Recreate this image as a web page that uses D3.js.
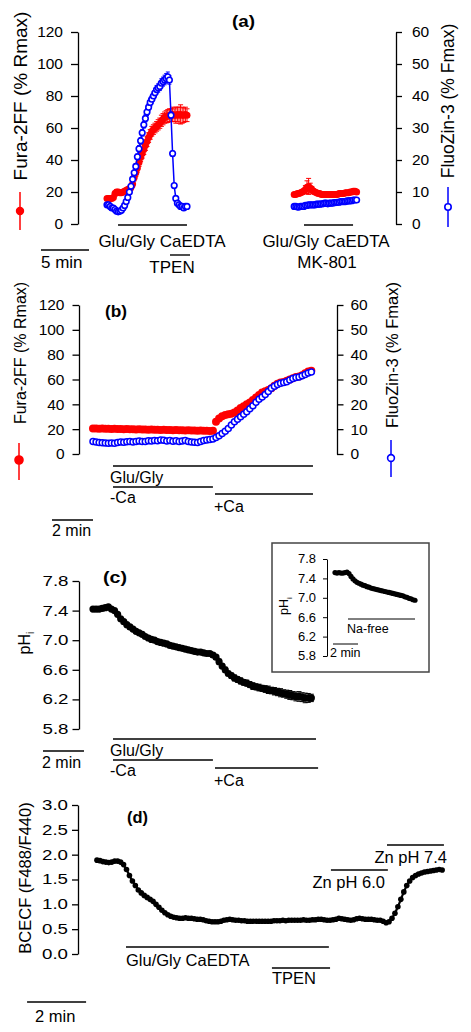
<!DOCTYPE html>
<html><head><meta charset="utf-8">
<script src="https://cdn.jsdelivr.net/npm/d3@7"></script>
<style>body{margin:0;background:#fff}svg{display:block}</style>
</head><body>
<svg id="chart" width="471" height="1032"></svg>
<script>
// ---------------- DATA ----------------
// Panel (a): sample interval (min) and start time of each recording (min)
const aDt = 1/6;
const aT0 = [0, 19.5];
const aFura1 = [16,16,16,16,16.5,19,20,20,19.5,19.5, 20,20.5,21,21.5,22,23,25,29,32,35, 38.5,41.5,44,46.5,49,51.5,54,56,58,59, 60,61,62,63,64.5,65.5,66.5,67,67.5,68, 68,68.5,68,68,68.5,68,68.5,68,68,68.5, 68];
const aFuraErr1 = [1,1,1,1,1.2,1.5,1.5,1.5,1.2,1.2, 1.2,1.2,1.5,1.5,1.5,1.8,2,2,2.2,2.5, 2.5,2.5,2.8,3,3,3,3,3,3,3, 3,3,3.2,3.2,3.5,3.5,3.5,3.8,4,4, 4,4.5,4,5,4.5,5,6,5,4.5,4.5, 4];
const aZin1 = [6,6,5.5,5,5,4.5,4,3.8,4,4.3, 5,5.8,7,8.3,10,11.8,14,16,18,21, 23.5,26,28.5,31,33,35,36.5,38,39,40, 41,42,42.5,43,44,44.5,45,45.5,46,45, 34,22,12,8,6.5,6,5.5,5.5,5,5.5, 5.5];
const aZinErr1 = [0.4,0.4,0.4,0.4,0.4,0.4,0.4,0.4,0.4,0.4, 0.5,0.5,0.6,0.6,0.7,0.7,0.8,0.8,0.9,0.9, 1,1,1,1,1.1,1.1,1.1,1.2,1.2,1.2, 1.2,1.3,1.3,1.3,1.4,1.4,1.5,1.5,1.5,1.3, 1,0.8,0.6,0.5,0.5,0.4,0.4,0.4,0.4,0.4, 0.4];
const aFura2 = [18.5,18.5,19,19,19.5,20,20.5,21.5,23,23.5, 22.5,21.5,20.5,20,19.5,19,19,18.5,18.5,18.5, 18.5,18.5,18.5,18.5,18.5,18.5,18.5,18.5,19,19, 19,19,19.5,19.5,19.5,20,20,20.5,20.5,20];
const aFuraErr2 = [1,1,1,1,1,1.2,1.5,2.5,4,5, 3,2,1.5,1.2,1,1,1,1,1,1, 1,1,1,1,1,1,1,1,1,1, 1,1,1,1,1,1,1.2,1.2,1.2,1.2];
const aZin2 = [5.5,5.5,5.3,5.3,5.5,5.5,5.5,5.8,5.8,6, 6,6,6,6,6.2,6.2,6.2,6.3,6.3,6.5, 6.5,6.3,6.5,6.5,6.5,6.7,6.7,6.8,6.8,7, 7,7,7,7.2,7.2,7.3,7.3,7.5,7.5,7.5];
const aLeftTicks = [0,20,40,60,80,100,120];
const aRightTicks = [0,10,20,30,40,50,60];
// protocol bars of panel (a): [label, start min, end min]
const aProtocol = [["Glu/Gly CaEDTA",1.15,8.33],["TPEN",6.56,8.65],["Glu/Gly CaEDTA",20.52,25.63]];
const aScaleMin = 5;

// Panel (b)
const bDt = 0.15;
const bFura = [20.5,20.6,20.4,20.5,20.3,20.4,20.2,20.3,20.1,20.2, 20.0,20.1,19.9,20.0,19.8,19.9,19.7,19.8,19.6,19.7, 19.5,19.6,19.4,19.5,19.3,19.4,19.2,19.3,19.1,19.2, 19.0,19.1,18.9,19.0,18.8,18.9,18.7,18.8,18.6,18.7, 26,28.5,30.5,31.5,32,32.5,33.5,35,37,38.5, 40,41.5,43.5,45.5,47.5,49.5,50.5,51.5,53,55, 56.5,57.5,58,59,60,61,62,62.5,63.5,65, 66.5,67];
const bZin = [5.0,4.8,4.6,4.5,4.4,4.3,4.4,4.3,4.6,4.8, 4.7,4.9,5.0,4.8,5.0,5.2,5.0,5.0,5.3,5.2, 5.4,5.3,5.6,5.5,5.2,5.4,5.1,5.3,5.0,5.2, 5.4,5.0,4.8,4.7,4.6,5.0,5.4,5.6,5.8,6.0, 6.6,7.3,8.3,9.2,10.3,11.7,13.0,14.0,15.0,16.0, 17.0,18.2,19.4,20.8,22.0,23.0,24.0,25.2,26.5,27.3, 28.0,28.5,28.8,29.1,29.8,30.4,30.8,31.0,31.5,32.0, 32.6,33.0];
const bProtocol = [["Glu/Gly",0.976,10.73],["-Ca",0.976,5.85],["+Ca",5.95,10.73]];
const bScaleMin = 2;

// Panel (c)
const cDt = 0.15;
const cPH = [7.42,7.42,7.42,7.43,7.44,7.45,7.42,7.40,7.35,7.29, 7.25,7.21,7.18,7.15,7.12,7.10,7.08,7.05,7.03,7.01, 7.00,6.98,6.97,6.96,6.95,6.93,6.92,6.91,6.90,6.89, 6.88,6.87,6.86,6.85,6.84,6.84,6.83,6.82,6.82,6.80, 6.77,6.71,6.65,6.60,6.55,6.52,6.49,6.47,6.45,6.43, 6.42,6.40,6.38,6.37,6.36,6.35,6.34,6.33,6.32,6.31, 6.30,6.29,6.28,6.27,6.26,6.25,6.24,6.24,6.23,6.22, 6.22,6.22];
const cErr = [0.02,0.02,0.02,0.02,0.02,0.02,0.02,0.02,0.02,0.02, 0.02,0.02,0.025,0.02,0.025,0.02,0.025,0.02,0.025,0.02, 0.025,0.02,0.025,0.025,0.02,0.025,0.025,0.02,0.025,0.025, 0.025,0.02,0.025,0.025,0.025,0.02,0.025,0.025,0.025,0.03, 0.03,0.035,0.03,0.035,0.03,0.035,0.04,0.035,0.04,0.035, 0.04,0.04,0.045,0.04,0.045,0.04,0.045,0.05,0.045,0.05, 0.05,0.055,0.05,0.055,0.06,0.055,0.06,0.065,0.06,0.065, 0.06,0.05];
const pHTicks = [5.8,6.2,6.6,7.0,7.4,7.8];
const cProtocol = [["Glu/Gly",0.976,10.88],["-Ca",0.976,5.85],["+Ca",5.95,10.98]];
// inset of (c)
const iDt = 0.16;
const iPH = [7.52,7.51,7.52,7.51,7.51,7.52,7.53,7.50,7.44,7.39, 7.35,7.32,7.30,7.28,7.26,7.25,7.23,7.22,7.20,7.19, 7.18,7.17,7.16,7.15,7.14,7.13,7.12,7.11,7.10,7.09, 7.08,7.07,7.06,7.05,7.04,7.02,7.01,6.99,6.98,6.96, 6.95];
const iProtocol = [["Na-free",1.04,6.4]];

// Panel (d)
const dDt = 0.1;
const dRatio = [1.89,1.88,1.86,1.85,1.84,1.85,1.87,1.87,1.85,1.80, 1.70,1.58,1.47,1.38,1.29,1.23,1.18,1.14,1.10,1.06, 1.00,0.94,0.88,0.83,0.79,0.76,0.74,0.73,0.72,0.72, 0.73,0.72,0.72,0.71,0.70,0.70,0.69,0.67,0.66,0.65, 0.65,0.65,0.66,0.68,0.69,0.70,0.69,0.68,0.68,0.67, 0.67,0.66,0.66,0.66,0.66,0.66,0.66,0.66,0.66,0.66, 0.67,0.67,0.67,0.68,0.67,0.68,0.68,0.68,0.68,0.68, 0.69,0.68,0.68,0.69,0.69,0.70,0.70,0.69,0.68,0.68, 0.69,0.70,0.72,0.71,0.70,0.69,0.68,0.69,0.71,0.72, 0.71,0.70,0.70,0.70,0.69,0.68,0.68,0.66,0.63,0.65, 0.72,0.82,0.95,1.10,1.25,1.38,1.47,1.54,1.58,1.61, 1.63,1.65,1.66,1.67,1.68,1.69,1.70,1.69];
const dTicks = [0,0.5,1.0,1.5,2.0,2.5,3.0];
const dProtocol = [["Glu/Gly CaEDTA",0.983,7.86],["TPEN",5.93,7.9],["Zn pH 6.0",7.93,9.86],["Zn pH 7.4",9.83,11.76]];

// ---------------- DRAWING ----------------
const FONT = '"Liberation Sans", Arial, Helvetica, sans-serif';
const RED = '#ff0000', BLUE = '#0000ff';
const svg = d3.select('#chart');

function lin(d0,d1,r0,r1){ return d3.scaleLinear().domain([d0,d1]).range([r0,r1]); }

function addAxis(scale, orient, x, ticks, fmt, o){
  const ax = (orient==='left'?d3.axisLeft(scale):d3.axisRight(scale))
    .tickValues(ticks).tickFormat(fmt).tickSize(o.tick).tickSizeOuter(0).tickPadding(o.pad);
  const g = svg.append('g').attr('transform',`translate(${x},0)`).call(ax)
    .attr('font-family',FONT).attr('font-size',o.fs);
  g.select('.domain').attr('stroke','#000').attr('stroke-width',o.sw||1.3);
  g.selectAll('.tick line').attr('stroke','#000').attr('stroke-width',o.sw||1.3);
  const t = g.selectAll('.tick text').attr('fill','#000');
  if(o.tl) t.attr('textLength',o.tl).attr('lengthAdjust','spacingAndGlyphs');
  return g;
}

function plot(xs, ys, t0, dt, vals, errs, o){
  const g = svg.append('g');
  const pts = vals.map((v,i)=>({x:xs(t0+i*dt), y:ys(v),
      lo: errs?ys(v-errs[i]):null, hi: errs?ys(v+errs[i]):null}));
  if(o.line) g.append('path').attr('d', d3.line().x(d=>d.x).y(d=>d.y)(pts))
      .attr('fill','none').attr('stroke',o.line).attr('stroke-width',o.lw||1.3);
  if(errs){
    g.selectAll('line.e').data(pts).join('line').attr('class','e')
      .attr('x1',d=>d.x).attr('x2',d=>d.x).attr('y1',d=>d.lo).attr('y2',d=>d.hi)
      .attr('stroke',o.ec).attr('stroke-width',1);
    g.selectAll('line.c').data(pts).join('line').attr('class','c')
      .attr('x1',d=>d.x-o.cap).attr('x2',d=>d.x+o.cap).attr('y1',d=>d.hi).attr('y2',d=>d.hi)
      .attr('stroke',o.ec).attr('stroke-width',1);
    g.selectAll('line.c2').data(pts).join('line').attr('class','c2')
      .attr('x1',d=>d.x-o.cap).attr('x2',d=>d.x+o.cap).attr('y1',d=>d.lo).attr('y2',d=>d.lo)
      .attr('stroke',o.ec).attr('stroke-width',1);
  }
  g.selectAll('circle').data(pts).join('circle')
    .attr('cx',d=>d.x).attr('cy',d=>d.y).attr('r',o.r)
    .attr('fill',o.fill).attr('stroke',o.stroke||'none').attr('stroke-width',o.sw||0);
}

function T(x,y,s,fs,anchor,weight,tl){
  const t = svg.append('text').attr('x',x).attr('y',y).attr('font-family',FONT)
    .attr('font-size',fs).attr('text-anchor',anchor||'start')
    .attr('font-weight',weight||'normal').attr('fill','#000').text(s);
  if(tl) t.attr('textLength',tl).attr('lengthAdjust','spacingAndGlyphs');
  return t;
}
function VT(x,y,s,fs){
  return svg.append('text').attr('transform',`translate(${x},${y}) rotate(-90)`)
    .attr('dy','0.35em').attr('text-anchor','middle').attr('font-family',FONT)
    .attr('font-size',fs).attr('fill','#000').text(s);
}
function PHI(x,y,fs){
  const t = svg.append('text').attr('transform',`translate(${x},${y}) rotate(-90)`)
    .attr('dy','0.35em').attr('text-anchor','middle').attr('font-family',FONT)
    .attr('font-size',fs).attr('fill','#000');
  t.append('tspan').text('pH');
  t.append('tspan').attr('font-size',fs*0.65).attr('dy',fs*0.28).text('i');
}
function H(x1,x2,y,w){
  svg.append('line').attr('x1',x1).attr('x2',x2).attr('y1',y).attr('y2',y)
    .attr('stroke','#000').attr('stroke-width',w||1.4);
}
function legendMark(x,y1,y2,yc,color,filled,r){
  svg.append('line').attr('x1',x).attr('x2',x).attr('y1',y1).attr('y2',y2)
    .attr('stroke',color).attr('stroke-width',1.5);
  svg.append('circle').attr('cx',x).attr('cy',yc).attr('r',r)
    .attr('fill',filled?color:'#fff').attr('stroke',color).attr('stroke-width',1.6);
}

// ---- Panel (a) ----
const xA = lin(0,1,107,116.6);
const yAL = lin(0,120,224,32), yAR = lin(0,60,224,32);
addAxis(yAL,'left',78,aLeftTicks,d3.format('d'),{tick:7,pad:8,fs:15.5});
addAxis(yAR,'right',396,aRightTicks,d3.format('d'),{tick:6,pad:10,fs:15.5});
plot(xA,yAL,aT0[0],aDt,aFura1,aFuraErr1,{r:3.5,fill:RED,ec:RED,cap:2.5});
plot(xA,yAL,aT0[1],aDt,aFura2,aFuraErr2,{r:3.5,fill:RED,ec:RED,cap:2.5});
plot(xA,yAR,aT0[0],aDt,aZin1,aZinErr1,{line:BLUE,lw:1.5,r:2.8,fill:'#fff',stroke:BLUE,sw:1.6,ec:BLUE,cap:2});
plot(xA,yAR,aT0[1],aDt,aZin2,null,{line:BLUE,lw:1.5,r:2.8,fill:'#fff',stroke:BLUE,sw:1.6});
H(xA(aProtocol[0][1]),xA(aProtocol[0][2]),225);
H(xA(aProtocol[1][1]),xA(aProtocol[1][2]),255);
H(xA(aProtocol[2][1]),xA(aProtocol[2][2]),225);
H(xA(-6.875),xA(-6.875+aScaleMin),250);
T(162,247,aProtocol[0][0],17,'middle');
T(172,273,aProtocol[1][0],17,'middle');
T(326,247,aProtocol[2][0],17,'middle');
T(327,268,'MK-801',17,'middle');
T(41,268,aScaleMin+' min',17);
T(232,27,'(a)',16,'start','bold',23);
VT(20,96,'Fura-2FF (% Rmax)',19);
VT(448,101,'FluoZin-3 (% Fmax)',17.5);
legendMark(20,192,230,211,RED,true,3.4);
legendMark(448,187,227,207,BLUE,false,3.2);

// ---- Panel (b) ----
const xB = lin(0,1,93,113.5);
const yBL = lin(0,120,454,305), yBR = lin(0,60,454,305);
addAxis(yBL,'left',79,aLeftTicks,d3.format('d'),{tick:6.5,pad:8,fs:15.5});
addAxis(yBR,'right',337,aRightTicks,d3.format('d'),{tick:6.5,pad:7,fs:15.5});
plot(xB,yBL,0,bDt,bFura,null,{r:4,fill:RED});
plot(xB,yBR,0,bDt,bZin,null,{r:3,fill:'#fff',stroke:BLUE,sw:1.5});
H(xB(bProtocol[0][1]),xB(bProtocol[0][2]),466);
H(xB(bProtocol[1][1]),xB(bProtocol[1][2]),487);
H(xB(bProtocol[2][1]),xB(bProtocol[2][2]),494);
H(xB(-bScaleMin),xB(0),520);
T(110,483,bProtocol[0][0],16);
T(110,503,bProtocol[1][0],16);
T(214,512,bProtocol[2][0],16);
T(52,536,bScaleMin+' min',16);
T(105,317,'(b)',16,'start','bold',22);
VT(20,353,'Fura-2FF (% Rmax)',16);
VT(392,355,'FluoZin-3 (% Fmax)',16.5);
legendMark(19,443,480,460,RED,true,4);
legendMark(391,440,477,458,BLUE,false,3.4);

// ---- Panel (c) ----
const xC = lin(0,1,93,113.5);
const yC = lin(5.8,7.8,729,581);
addAxis(yC,'left',79,pHTicks,d3.format('.1f'),{tick:6.5,pad:4,fs:14,tl:26});
plot(xC,yC,0,cDt,cPH,cErr,{r:3.6,fill:'#000',ec:'#000',cap:2.5});
H(xC(cProtocol[0][1]),xC(cProtocol[0][2]),739);
H(xC(cProtocol[1][1]),xC(cProtocol[1][2]),760);
H(xC(cProtocol[2][1]),xC(cProtocol[2][2]),768);
H(xC(-2.44),xC(-0.44),751);
T(110,756,cProtocol[0][0],16);
T(110,776,cProtocol[1][0],16);
T(214,786,cProtocol[2][0],16);
T(42,768,'2 min',16);
T(103,583,'(c)',16,'start','bold',24);
PHI(24,643,16);

// inset
svg.append('rect').attr('x',272).attr('y',543).attr('width',157).attr('height',129)
  .attr('fill','none').attr('stroke','#444').attr('stroke-width',1.5);
const xI = lin(0,1,335,347.5);
const yI = lin(5.8,7.8,656,559);
addAxis(yI,'left',327,pHTicks,d3.format('.1f'),{tick:4,pad:7,fs:12,tl:18,sw:1});
plot(xI,yI,0,iDt,iPH,null,{r:2.6,fill:'#000'});
H(xI(iProtocol[0][1]),xI(iProtocol[0][2]),619,1);
H(xI(-0.16),xI(1.84),644,1);
T(347,633,iProtocol[0][0],12.5);
T(330,657,'2 min',12.5);
PHI(284,606,12.5);

// ---- Panel (d) ----
const xD = lin(0,1,97,126.5);
const yD = lin(0,3,954,805);
addAxis(yD,'left',78,dTicks,d3.format('.1f'),{tick:6,pad:4,fs:14,tl:26});
plot(xD,yD,0,dDt,dRatio,null,{line:'#000',lw:2.2,r:2.8,fill:'#000'});
H(xD(dProtocol[0][1]),xD(dProtocol[0][2]),947);
H(xD(dProtocol[1][1]),xD(dProtocol[1][2]),968);
H(xD(dProtocol[2][1]),xD(dProtocol[2][2]),870);
H(xD(dProtocol[3][1]),xD(dProtocol[3][2]),845);
H(xD(-2.37),xD(-0.37),1002);
T(126,966,dProtocol[0][0],16.5);
T(272,984,dProtocol[1][0],16.5);
T(385,888,dProtocol[2][0],16.5,'end');
T(447,863,dProtocol[3][0],16.5,'end');
T(35,1022,'2 min',16.5);
T(127,823,'(d)',16,'start','bold',21);
VT(25,878,'BCECF (F488/F440)',16.5);
</script>
</body></html>
